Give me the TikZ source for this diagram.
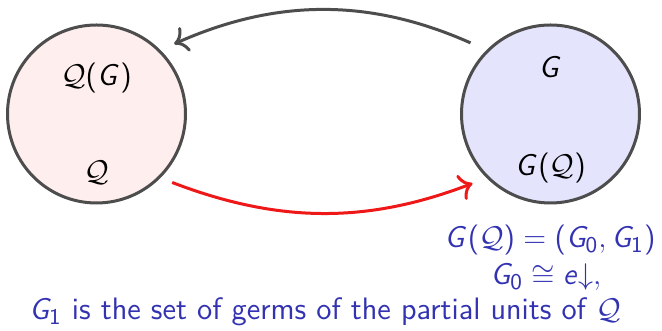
\documentclass[tikz,border=0pt]{standalone}
\usepackage{amsmath,amssymb}
\usepackage{xcolor}
\definecolor{setborder}{RGB}{77,77,77}
\definecolor{leftfill}{RGB}{255,238,238}
\definecolor{rightfill}{RGB}{228,228,252}
\definecolor{structblue}{RGB}{51,51,178}
\definecolor{mapred}{RGB}{238,24,24}
\SetSymbolFont{operators}{normal}{OT1}{cmss}{m}{n}
\DeclareMathAlphabet{\mathsfit}{OT1}{cmss}{m}{sl}
\newcommand{\gG}{\mathsfit{G}}
\newcommand{\unite}{\mathsfit{e}}
\newcommand{\QQ}{\mathcal{Q}}
\usetikzlibrary{arrows.meta, positioning, calc}

\begin{document}
\begin{tikzpicture}[x=0.4pt, y=-0.4pt, >={To[scale=1.2]}, font=\sffamily\fontsize{12.4}{15}\selectfont,
    set/.style={circle, draw=setborder, very thick, minimum size=71.2pt, inner sep=0pt},
    remark/.style={text=structblue, anchor=base, inner sep=0.5pt}]
    \useasboundingbox (0,0) rectangle (662,331);
    \node[set, fill=leftfill] (Qset) at (96.5,114) {};
    \node[set, fill=rightfill] (Gset) at (550.5,114) {};
    \node (QG) at (96.5,78) {$\QQ(\gG)$};
    \node (Q) at (96.5,173) {$\QQ$};
    \node (G) at (550.5,67) {$\gG$};
    \node (GQ) at (550.5,168) {$\gG(\QQ)$};
    \draw[->, setborder, very thick, shorten <=7pt, shorten >=6pt] (Gset.135) to[bend right=24] (Qset.45);
    \draw[->, mapred, very thick, shorten <=5pt, shorten >=6pt] (Qset.-45) to[bend right=21] (Gset.-135);
    % what the map gives
    \node[remark] (pair) at (550,248) {$\gG(\QQ) = (\gG_0, \gG_1)$};
    \node[remark] (iso) at (546,285) {$\gG_0 \cong \unite{\downarrow},$};
    \node[remark] (germs) at (325,320) {$\gG_1$ is the set of germs of the partial units of $\QQ$};
\end{tikzpicture}
\end{document}
